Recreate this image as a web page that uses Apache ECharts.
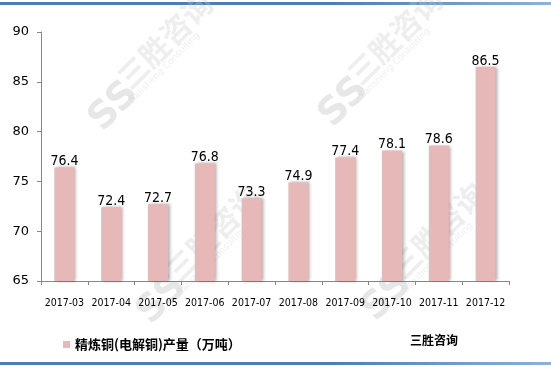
<!DOCTYPE html>
<html><head><meta charset="utf-8">
<script src="https://cdn.jsdelivr.net/npm/echarts@6/dist/echarts.min.js"></script>
<style>html,body{margin:0;padding:0;background:#fff}#c{width:551px;height:367px}</style>
</head><body><div id="c"></div>
<script>
var categories = ['2017-03','2017-04','2017-05','2017-06','2017-07','2017-08','2017-09','2017-10','2017-11','2017-12'];
var production = [76.4, 72.4, 72.7, 76.8, 73.3, 74.9, 77.4, 78.1, 78.6, 86.5];
var seriesName = '精炼铜(电解铜)产量（万吨）';
var sourceText = '三胜咨询';
var yTicks = {min: 65, max: 90, interval: 5};

var wmColor = 'rgba(200,200,200,0.3)';
function wm(x, y) {
  return [
    {type:'text', x:x, y:y, rotation:Math.PI/4, silent:true, z:0,
     style:{text:'三胜咨询', fill:wmColor, font:'bold 30px "Noto Sans CJK SC"'}},
    {type:'text', x:x+16, y:y+26, rotation:Math.PI/4, silent:true, z:0,
     style:{text:'Sansheng Consulting', fill:wmColor, font:'9px "DejaVu Sans"'}},
    {type:'text', x:x-30, y:y+40, rotation:Math.PI/4, silent:true, z:0,
     style:{text:'SS', fill:'rgba(195,195,195,0.4)', font:'bold 38px "DejaVu Sans"'}}
  ];
}
var chart = echarts.init(document.getElementById('c'), null, {renderer:'canvas'});
var graphics = [
  {type:'rect', shape:{x:0,y:2,width:551,height:3}, silent:true,
   style:{fill:new echarts.graphic.LinearGradient(0,0,1,0,[{offset:0,color:'#4a7ebb'},{offset:0.6,color:'#4a7ebb'},{offset:1,color:'#8fb0d8'}])}},
  {type:'rect', shape:{x:0,y:362,width:551,height:3}, silent:true,
   style:{fill:new echarts.graphic.LinearGradient(0,0,1,0,[{offset:0,color:'#4a7ebb'},{offset:0.6,color:'#4a7ebb'},{offset:1,color:'#8fb0d8'}])}},
  {type:'text', left:410, top:334, style:{text:sourceText, fill:'#000', font:'bold 12px "Noto Sans CJK SC"'}}
];
graphics = graphics.concat(wm(112,72), wm(342,68), wm(160,265), wm(385,262));
chart.setOption({
  animation:false,
  backgroundColor:'#fff',
  grid:{left:41, right:42, top:32, bottom:86},
  legend:{left:58, top:333, itemWidth:7, itemHeight:7, itemGap:5, icon:'rect',
    textStyle:{color:'#000', fontSize:13, fontWeight:'bold', fontFamily:'"Noto Sans CJK SC"'},
    data:[seriesName]},
  graphic:graphics,
  xAxis:{type:'category', data:categories,
    axisLine:{lineStyle:{color:'#868686'}},
    axisTick:{show:true, length:4, lineStyle:{color:'#868686'}},
    axisLabel:{color:'#000', fontSize:10.5, fontFamily:'"DejaVu Sans Condensed","DejaVu Sans"', margin:17, interval:0}},
  yAxis:{type:'value', min:yTicks.min, max:yTicks.max, interval:yTicks.interval,
    axisLine:{show:true, lineStyle:{color:'#868686'}},
    axisTick:{show:true, length:4, lineStyle:{color:'#868686'}},
    splitLine:{show:false},
    axisLabel:{color:'#000', fontSize:13, fontFamily:'"DejaVu Sans"', margin:12}},
  series:[{name:seriesName, type:'bar', data:production, barWidth:20, z:3,
    itemStyle:{color:'#e6b8b7', shadowColor:'rgba(0,0,0,0.3)', shadowBlur:3, shadowOffsetX:2, shadowOffsetY:0},
    label:{show:true, position:'top', distance:-1, color:'#000', fontSize:14, fontFamily:'"DejaVu Sans Condensed","DejaVu Sans"'}}]
});
</script></body></html>
